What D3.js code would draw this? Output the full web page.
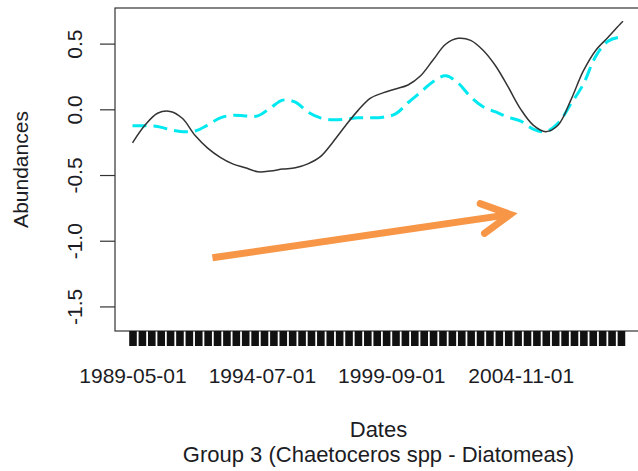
<!DOCTYPE html>
<html>
<head>
<meta charset="utf-8">
<script src="https://cdn.jsdelivr.net/npm/d3@7/dist/d3.min.js"></script>
<style>
    body { margin: 0; background: #fff; }
    text { font-family: "Liberation Sans", Arial, sans-serif; fill: #1c1c24; }
</style>
</head>
<body>
<script>
//sampling dates (every six months, plus the last month)
var dates = ["1989-05-01","1989-11-01","1990-05-01","1990-11-01","1991-05-01","1991-11-01",
    "1992-05-01","1992-11-01","1993-05-01","1993-11-01","1994-05-01","1994-11-01",
    "1995-05-01","1995-11-01","1996-05-01","1996-11-01","1997-05-01","1997-11-01",
    "1998-05-01","1998-11-01","1999-05-01","1999-11-01","2000-05-01","2000-11-01",
    "2001-05-01","2001-11-01","2002-05-01","2002-11-01","2003-05-01","2003-11-01",
    "2004-05-01","2004-11-01","2005-05-01","2005-11-01","2006-05-01","2006-11-01",
    "2007-05-01","2007-11-01","2008-05-01","2008-11-01","2008-12-01"];

//observed abundances (solid black line)
var observed = [-0.255,-0.12,-0.03,-0.016,-0.07,-0.2,-0.295,-0.365,-0.415,-0.445,
    -0.475,-0.47,-0.455,-0.445,-0.415,-0.36,-0.25,-0.125,-0.01,0.085,
    0.125,0.155,0.185,0.255,0.375,0.495,0.54,0.525,0.45,0.33,
    0.17,0.0,-0.12,-0.17,-0.12,0.07,0.29,0.45,0.55,0.655,0.67];

//fitted abundances (dashed cyan line)
var fitted = [-0.125,-0.125,-0.13,-0.155,-0.17,-0.165,-0.12,-0.065,-0.045,-0.05,
    -0.05,0.01,0.07,0.055,-0.02,-0.065,-0.08,-0.075,-0.065,-0.065,
    -0.06,-0.035,0.05,0.13,0.21,0.255,0.2,0.095,0.02,-0.02,
    -0.06,-0.09,-0.15,-0.17,-0.105,0.04,0.19,0.405,0.52,0.55,0.55];

//axis labels
var xLabelDates = ["1989-05-01","1994-07-01","1999-09-01","2004-11-01"];
var yTicks = [0.5, 0.0, -0.5, -1.0, -1.5];

//trend arrow drawn over the plot [date, value]
var arrowFrom = ["1992-07-10", -1.13];
var arrowTo = ["2004-06-01", -0.80];

window.onload = drawChart();

function drawChart(){
    //frame dimensions
    var width = 638,
        height = 471;

    //plot box
    var box = {left: 115, top: 8, right: 642, bottom: 331};

    var parse = d3.timeParse("%Y-%m-%d");

    var svg = d3.select("body")
        .append("svg")
        .attr("width", width)
        .attr("height", height);

    //x scale, first and last date with R style padding
    var x = d3.scaleTime()
        .domain([parse(dates[0]), parse(dates[dates.length - 1])])
        .range([132.5, 623]);

    var y = d3.scaleLinear()
        .domain([-1.687, 0.771])
        .range([box.bottom, box.top]);

    var obsData = dates.map(function(d, i){ return {date: parse(d), value: observed[i]}; });
    var fitData = dates.map(function(d, i){ return {date: parse(d), value: fitted[i]}; });

    var line = d3.line()
        .x(function(d){ return x(d.date); })
        .y(function(d){ return y(d.value); })
        .curve(d3.curveCatmullRom);

    //fitted series first, observed on top
    svg.append("path")
        .datum(fitData)
        .attr("fill", "none")
        .attr("stroke", "#00e8f0")
        .attr("stroke-width", 3)
        .attr("stroke-dasharray", "14,7")
        .attr("d", line);

    svg.append("path")
        .datum(obsData)
        .attr("fill", "none")
        .attr("stroke", "#333")
        .attr("stroke-width", 1.5)
        .attr("d", line);

    //plot box
    svg.append("rect")
        .attr("x", box.left)
        .attr("y", box.top)
        .attr("width", box.right - box.left)
        .attr("height", box.bottom - box.top)
        .attr("fill", "none")
        .attr("stroke", "#333")
        .attr("stroke-width", 1.2);

    //dense date ticks along the bottom
    var start = parse(dates[0]),
        end = parse(dates[dates.length - 1]);
    var tickDates = d3.range(0, 53).map(function(i){
        return d3.timeDay.offset(start, Math.round(i * 137));
    }).filter(function(d){ return d <= end; });

    var xTicks = svg.append("g")
        .attr("transform", "translate(0," + box.bottom + ")")
        .call(d3.axisBottom(x).tickValues(tickDates).tickSize(15).tickFormat(""));
    xTicks.select(".domain").remove();
    xTicks.selectAll(".tick line")
        .attr("stroke", "#111")
        .attr("stroke-width", 7.6);

    //date labels
    var xLabels = svg.append("g")
        .attr("transform", "translate(0," + box.bottom + ")")
        .call(d3.axisBottom(x)
            .tickValues(xLabelDates.map(parse))
            .tickSize(0)
            .tickFormat(d3.timeFormat("%Y-%m-%d")));
    xLabels.select(".domain").remove();
    xLabels.selectAll("text")
        .attr("y", 52)
        .attr("dy", null)
        .attr("fill", "#1c1c24")
        .style("font-size", "21px");

    //y axis with vertical labels
    var yAxis = svg.append("g")
        .attr("transform", "translate(" + box.left + ",0)")
        .call(d3.axisLeft(y)
            .tickValues(yTicks)
            .tickSize(15)
            .tickFormat(function(d){ return d.toFixed(1); }));
    yAxis.select(".domain").remove();
    yAxis.selectAll(".tick line")
        .attr("stroke", "#333")
        .attr("stroke-width", 1.2);
    yAxis.selectAll("text")
        .attr("x", null)
        .attr("dy", null)
        .attr("transform", "translate(-33,0) rotate(-90)")
        .attr("text-anchor", "middle")
        .attr("fill", "#1c1c24")
        .style("font-size", "21px");

    //axis titles
    svg.append("text")
        .attr("transform", "translate(28," + ((box.top + box.bottom) / 2) + ") rotate(-90)")
        .attr("text-anchor", "middle")
        .style("font-size", "21px")
        .text("Abundances");

    svg.append("text")
        .attr("x", (box.left + box.right) / 2)
        .attr("y", 437)
        .attr("text-anchor", "middle")
        .style("font-size", "22px")
        .text("Dates");

    svg.append("text")
        .attr("x", (box.left + box.right) / 2)
        .attr("y", 462)
        .attr("text-anchor", "middle")
        .style("font-size", "22px")
        .text("Group 3 (Chaetoceros spp - Diatomeas)");

    //orange trend arrow
    var x0 = x(parse(arrowFrom[0])), y0 = y(arrowFrom[1]),
        x1 = x(parse(arrowTo[0])), y1 = y(arrowTo[1]);
    var ang = Math.atan2(y0 - y1, x0 - x1),
        wing = 32,
        spread = 28 * Math.PI / 180;

    svg.append("line")
        .attr("x1", x0).attr("y1", y0)
        .attr("x2", x1).attr("y2", y1)
        .attr("stroke", "#f79646")
        .attr("stroke-width", 7);

    svg.append("path")
        .attr("d", d3.line()([
            [x1 + wing * Math.cos(ang - spread), y1 + wing * Math.sin(ang - spread)],
            [x1, y1],
            [x1 + wing * Math.cos(ang + spread), y1 + wing * Math.sin(ang + spread)]
        ]))
        .attr("fill", "none")
        .attr("stroke", "#f79646")
        .attr("stroke-width", 7)
        .attr("stroke-linecap", "round")
        .attr("stroke-linejoin", "miter");
};
</script>
</body>
</html>
